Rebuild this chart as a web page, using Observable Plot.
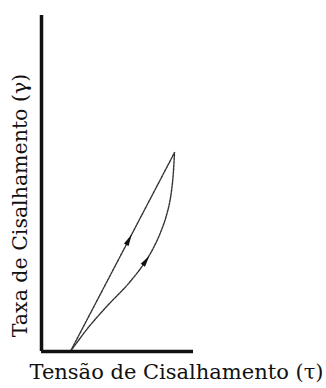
<!DOCTYPE html>
<html>
<head>
<meta charset="utf-8">
<script src="https://cdn.jsdelivr.net/npm/d3@7"></script>
<script src="https://cdn.jsdelivr.net/npm/@observablehq/plot@0.6"></script>
<style>
  html, body { margin: 0; padding: 0; background: #fff; }
  #chart svg { display: block; }
</style>
</head>
<body>
<div id="chart"></div>
<script>
// Hysteresis loop: shear rate (γ) against shear stress (τ), arbitrary units
const xLabel = "Tensão de Cisalhamento (τ)";
const yLabel = "Taxa de Cisalhamento (γ)";

// Upper branch (nearly straight)
const upperTau   = [1.9, 8.75];
const upperGamma = [0.0, 5.92];

// Lower branch (curved)
const lowerTau   = [1.9, 3.09, 4.41, 5.72, 6.97, 7.83, 8.36, 8.62, 8.75];
const lowerGamma = [0.0, 0.72, 1.40, 2.02, 2.77, 3.54, 4.29, 5.03, 5.92];

// Direction markers on each branch
const arrowTau   = [5.72, 6.84];
const arrowGamma = [3.30, 2.68];
const arrowAngle = [28, 35];

const upper = upperTau.map((t, i) => ({tau: t, gamma: upperGamma[i]}));
const lower = lowerTau.map((t, i) => ({tau: t, gamma: lowerGamma[i]}));
const arrows = arrowTau.map((t, i) => ({tau: t, gamma: arrowGamma[i], angle: arrowAngle[i]}));

// Narrow arrowhead pointing up (rotated per marker)
const arrowHead = {
  draw(context, size) {
    const s = Math.sqrt(size) / 3;
    context.moveTo(0, -4.5 * s);
    context.lineTo(1.7 * s, 3 * s);
    context.lineTo(-1.7 * s, 3 * s);
    context.closePath();
  }
};

const font = "'DejaVu Serif', serif";

const chart = Plot.plot({
  width: 326,
  height: 388,
  marginLeft: 41,
  marginRight: 133,
  marginTop: 15,
  marginBottom: 37,
  style: {background: "#fff", fontFamily: font},
  x: {domain: [0, 10], axis: null},
  y: {domain: [0, 10], axis: null},
  marks: [
    Plot.line(upper, {x: "tau", y: "gamma", stroke: "#333", strokeWidth: 1.4, strokeDasharray: "2.5 1"}),
    Plot.line(lower, {x: "tau", y: "gamma", curve: "catmull-rom", stroke: "#333", strokeWidth: 1.4, strokeDasharray: "2.5 1"}),
    Plot.dot(arrows, {x: "tau", y: "gamma", symbol: arrowHead, r: 2.6, rotate: "angle", fill: "#111", stroke: "none"}),
    Plot.ruleX([0], {stroke: "#111", strokeWidth: 3.5}),
    Plot.ruleY([0], {stroke: "#111", strokeWidth: 3.5}),
    Plot.text([xLabel], {frameAnchor: "bottom-left", textAnchor: "start", dx: -12, dy: 27, fontSize: 21, fill: "#111", fontFamily: font}),
    Plot.text([yLabel], {frameAnchor: "left", textAnchor: "middle", rotate: -90, dx: -21, dy: 22, fontSize: 20.5, fill: "#111", fontFamily: font})
  ]
});

document.getElementById("chart").appendChild(chart);
</script>
</body>
</html>
